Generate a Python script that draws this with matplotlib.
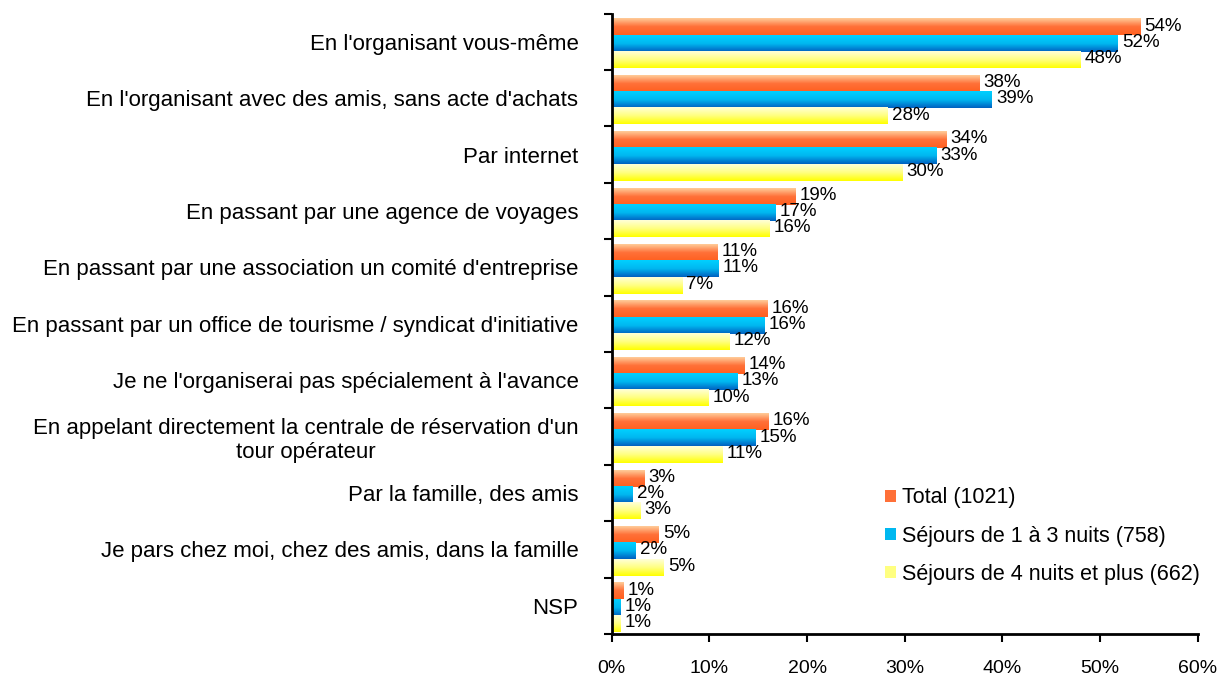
import matplotlib.pyplot as plt
import numpy as np
from matplotlib.colors import LinearSegmentedColormap
from matplotlib.patches import Patch

plt.rcParams["font.family"] = ["Liberation Sans", "DejaVu Sans"]

categories = [
    "En l'organisant vous-même",
    "En l'organisant avec des amis, sans acte d'achats",
    "Par internet",
    "En passant par une agence de voyages",
    "En passant par une association un comité d'entreprise",
    "En passant par un office de tourisme / syndicat d'initiative",
    "Je ne l'organiserai pas spécialement à l'avance",
    "En appelant directement la centrale de réservation d'un\ntour opérateur",
    "Par la famille, des amis",
    "Je pars chez moi, chez des amis, dans la famille",
    "NSP",
]
total = [54.1, 37.6, 34.2, 18.8, 10.8, 15.9, 13.6, 16.0, 3.3, 4.8, 1.2]
short_stay = [51.8, 38.9, 33.2, 16.7, 10.9, 15.6, 12.8, 14.7, 2.1, 2.4, 0.9]
long_stay = [48.0, 28.2, 29.7, 16.1, 7.2, 12.0, 9.9, 11.3, 2.9, 5.3, 0.9]
labels_total = [54, 38, 34, 19, 11, 16, 14, 16, 3, 5, 1]
labels_short = [52, 39, 33, 17, 11, 16, 13, 15, 2, 2, 1]
labels_long = [48, 28, 30, 16, 7, 12, 10, 11, 3, 5, 1]

series = [
    ("Total (1021)", total, labels_total, ["#FFCC99", "#FF7038", "#FF6020"]),
    ("Séjours de 1 à 3 nuits (758)", short_stay, labels_short, ["#00D0FF", "#00B8F0", "#0060C0"]),
    ("Séjours de 4 nuits et plus (662)", long_stay, labels_long, ["#FFFFD8", "#FFFF80", "#FFFF00"]),
]

fig = plt.figure(figsize=(12.21, 6.81), dpi=100)
ax = fig.add_axes([0.501, 0.069, 0.480, 0.911])

n = len(categories)
y = np.arange(n)
h = 0.29
grad = np.linspace(0, 1, 64).reshape(-1, 1)
handles = []
for i, (name, vals, labs, cols) in enumerate(series):
    cmap = LinearSegmentedColormap.from_list(name, cols)
    pos = y + (i - 1) * h + 0.03
    bars = ax.barh(pos, vals, height=h, color=cols[1], linewidth=0)
    for b, lab in zip(bars, labs):
        x0, y0 = b.get_x(), b.get_y()
        w, bh = b.get_width(), b.get_height()
        b.set_visible(False)
        ax.imshow(grad, cmap=cmap, aspect="auto", origin="upper",
                  extent=[x0, x0 + w, y0 + bh, y0], zorder=2)
        ax.text(x0 + w + 0.45, y0 + bh / 2 - 0.02, f"{lab}%", va="center",
                ha="left", fontsize=13.5, zorder=3)
    handles.append(Patch(facecolor=cols[1], edgecolor="none", label=name))

ax.set_xlim(0, 60)
ax.set_ylim(n - 0.5, -0.5)
ax.set_xticks(np.arange(0, 61, 10))
ax.set_xticklabels([f"{v}%" for v in range(0, 61, 10)], fontsize=14)
ax.tick_params(axis="x", direction="out", length=6, width=1.5, pad=13)

ax.set_yticks(np.arange(n + 1) - 0.5)
ax.set_yticklabels([])
ax.set_yticks(y, minor=True)
ax.set_yticklabels(categories, minor=True, fontsize=16, ha="right",
                   multialignment="center")
ax.tick_params(axis="y", which="major", direction="out", length=6, width=1.5)
ax.tick_params(axis="y", which="minor", length=0, pad=24)

for s in ["top", "right"]:
    ax.spines[s].set_visible(False)
ax.spines["left"].set_linewidth(2)
ax.spines["bottom"].set_linewidth(2)

ax.legend(handles=handles, loc="lower right", bbox_to_anchor=(1.03, 0.055),
          frameon=False, fontsize=15.5, handlelength=0.5, handleheight=0.5,
          handletextpad=0.3, labelspacing=0.8, borderpad=0.2)

fig.savefig("out.png", dpi=100)
